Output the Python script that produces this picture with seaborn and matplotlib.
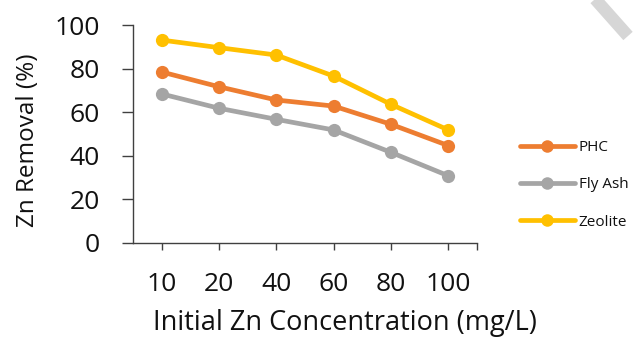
import matplotlib
matplotlib.use("Agg")
import matplotlib.pyplot as plt
import seaborn as sns
import pandas as pd
from matplotlib.lines import Line2D

concentrations = ["10", "20", "40", "60", "80", "100"]
phc = [78.6, 71.8, 65.7, 62.9, 54.5, 44.7]
fly_ash = [68.5, 61.9, 56.8, 51.9, 41.6, 30.8]
zeolite = [93.3, 89.8, 86.4, 76.7, 63.7, 51.9]

series_names = ["PHC", "Fly Ash", "Zeolite"]
colors = {"PHC": "#ED7D31", "Fly Ash": "#A5A5A5", "Zeolite": "#FFC000"}

df = pd.concat([
    pd.DataFrame({"conc": concentrations, "removal": vals, "adsorbent": name})
    for name, vals in zip(series_names, [phc, fly_ash, zeolite])
])

sns.set_theme(style="white")
plt.rcParams["font.family"] = ["Open Sans", "DejaVu Sans"]

fig = plt.figure(figsize=(6.34, 3.39), dpi=100)
ax = fig.add_axes([133 / 634, 1 - 242.7 / 339, 344 / 634, 217.2 / 339])

sns.lineplot(data=df, x="conc", y="removal", hue="adsorbent", palette=colors,
             hue_order=series_names, marker="o", markersize=9.5, linewidth=3.4,
             markeredgewidth=0, sort=False, ax=ax, legend=False)

ax.set_xlim(-0.5, 5.5)
ax.set_ylim(0, 100)
ax.set_yticks(range(0, 101, 20))
ax.set_xticks(range(len(concentrations)))
ax.set_xticklabels(concentrations)
ax.set_xticks([5.5], minor=True)

for side in ["top", "right"]:
    ax.spines[side].set_visible(False)
for side in ["left", "bottom"]:
    ax.spines[side].set_color("#404040")
    ax.spines[side].set_linewidth(1.0)

ax.tick_params(axis="y", which="major", direction="out", length=8, width=1,
               color="#404040", labelsize=19, pad=16, left=True,
               labelcolor="#111111")
ax.tick_params(axis="x", which="both", direction="out", length=5, width=1,
               color="#404040", labelsize=19, pad=16, bottom=True,
               labelcolor="#111111")

ax.set_xlabel("Initial Zn Concentration (mg/L)", fontsize=19.5, color="#111111")
ax.xaxis.set_label_coords(0.616, -0.305)
ax.set_ylabel("Zn Removal (%)", fontsize=17.5, color="#111111")
ax.yaxis.set_label_coords(-0.27, 0.47)

handles = [Line2D([0], [0], color=colors[n], lw=3.4, marker="o", markersize=9,
                  markeredgewidth=0) for n in series_names]
fig.legend(handles, series_names, loc="center left",
           bbox_to_anchor=(506 / 634, 1 - 185 / 339), frameon=False,
           fontsize=11, handlelength=3.6, handletextpad=0.25, labelspacing=1.45,
           labelcolor="#111111")

# faint diagonal stroke in the upper right corner
fig.add_artist(Line2D([590 / 634, 628 / 634], [1.02, 1 - 36 / 339],
                      transform=fig.transFigure, color="#d6d6d6", lw=9,
                      solid_capstyle="butt"))

fig.savefig("out.png", dpi=100)
